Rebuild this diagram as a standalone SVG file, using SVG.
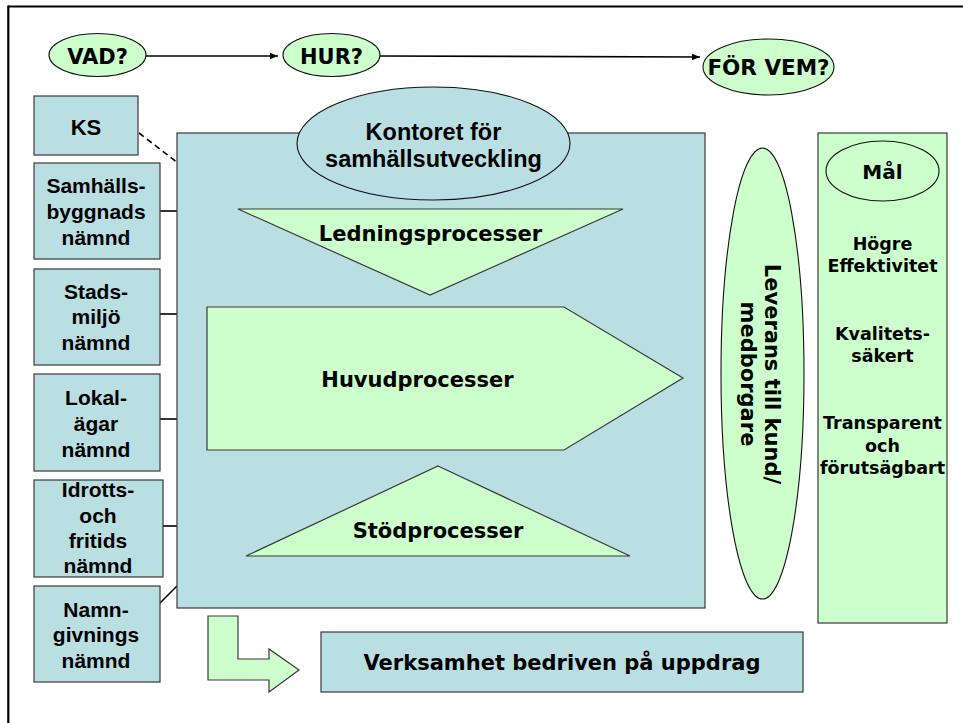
<svg xmlns="http://www.w3.org/2000/svg" width="963" height="723" viewBox="0 0 963 723">
<style>
.blue{fill:#BADFE3;stroke:#3a3a3a;stroke-width:1.2}
.green{fill:#CCFFCC;stroke:#3a3a3a;stroke-width:1.2}
.ell{stroke:#111;stroke-width:1.1}
.con{stroke:#000;stroke-width:1.6;fill:none}
.ta{font-family:"Liberation Sans",Arial,sans-serif;font-weight:bold;fill:#000;text-anchor:middle}
.tv{font-family:"DejaVu Sans",Verdana,sans-serif;font-weight:bold;fill:#000;text-anchor:middle}
</style>
<defs>
<marker id="ah" viewBox="0 0 10 10" refX="10" refY="5" markerWidth="8" markerHeight="8" markerUnits="userSpaceOnUse" orient="auto">
<path d="M0,1 L10,5 L0,9 z" fill="#000"/>
</marker>
</defs>
<rect width="963" height="723" fill="#fff"/>
<g id="frame">
<line x1="8" y1="6.5" x2="963" y2="6.5" stroke="#000" stroke-width="2.2"/>
<line x1="8.3" y1="5.5" x2="8.3" y2="723" stroke="#000" stroke-width="2.2"/>
</g>
<g id="connectors">
<line class="con" x1="146" y1="56" x2="278" y2="56" marker-end="url(#ah)"/>
<line class="con" x1="380" y1="56" x2="700" y2="57" marker-end="url(#ah)"/>
<line class="con" x1="139" y1="133" x2="178" y2="163" stroke-dasharray="6,4"/>
<line class="con" x1="160" y1="211" x2="177" y2="211"/>
<line class="con" x1="160" y1="314" x2="177" y2="314"/>
<line class="con" x1="160" y1="419" x2="177" y2="419"/>
<line class="con" x1="163" y1="526" x2="177" y2="526"/>
<line class="con" x1="160" y1="603" x2="177" y2="586"/>
</g>
<g id="vad">
<ellipse class="green ell" cx="97.5" cy="55" rx="48.5" ry="21.5"/>
<text class="tv" x="97.5" y="64" font-size="21">VAD?</text>
</g>
<g id="hur">
<ellipse class="green ell" cx="331.5" cy="55" rx="48.5" ry="21.5"/>
<text class="tv" x="331.5" y="64" font-size="21">HUR?</text>
</g>
<g id="forvem">
<ellipse class="green ell" cx="768.5" cy="67" rx="65.5" ry="28"/>
<text class="tv" x="768.5" y="74.5" font-size="21.5">FÖR VEM?</text>
</g>
<g id="kontoret-box">
<rect class="blue" x="177" y="133" width="528" height="475"/>
</g>
<g id="kontoret">
<ellipse class="blue ell" cx="433.5" cy="143.5" rx="136.5" ry="56.5"/>
<text class="ta" x="433.5" y="140" font-size="23.5">Kontoret för</text>
<text class="ta" x="433.5" y="167" font-size="23.5">samhällsutveckling</text>
</g>
<g id="ledning">
<polygon class="green" points="238,209 623,209 430,295"/>
<text class="tv" x="430.5" y="241" font-size="21">Ledningsprocesser</text>
</g>
<g id="huvud">
<polygon class="green" points="207,307 564,307 683,378 564,450 207,450"/>
<text class="tv" x="417.5" y="387" font-size="21">Huvudprocesser</text>
</g>
<g id="stod">
<polygon class="green" points="438,466 630,556 246,556"/>
<text class="tv" x="438" y="538" font-size="21">Stödprocesser</text>
</g>
<g id="ks">
<rect class="blue" x="34" y="96" width="104" height="59"/>
<text class="ta" x="86" y="135" font-size="22">KS</text>
</g>
<g id="samhallsbyggnad">
<rect class="blue" x="34" y="163" width="126" height="96"/>
<text class="ta" x="96" y="193" font-size="21">Samhälls-</text>
<text class="ta" x="96" y="219" font-size="21">byggnads</text>
<text class="ta" x="96" y="245" font-size="21">nämnd</text>
</g>
<g id="stadsmiljo">
<rect class="blue" x="34" y="269" width="126" height="96"/>
<text class="ta" x="96" y="299" font-size="21">Stads-</text>
<text class="ta" x="96" y="324" font-size="21">miljö</text>
<text class="ta" x="96" y="350" font-size="21">nämnd</text>
</g>
<g id="lokalagar">
<rect class="blue" x="34" y="374" width="126" height="97"/>
<text class="ta" x="96" y="405" font-size="21">Lokal-</text>
<text class="ta" x="96" y="431" font-size="21">ägar</text>
<text class="ta" x="96" y="457" font-size="21">nämnd</text>
</g>
<g id="idrott">
<rect class="blue" x="34" y="480" width="129" height="97"/>
<text class="ta" x="98" y="497" font-size="21">Idrotts-</text>
<text class="ta" x="98" y="523" font-size="21">och</text>
<text class="ta" x="98" y="548" font-size="21">fritids</text>
<text class="ta" x="98" y="573" font-size="21">nämnd</text>
</g>
<g id="namngivning">
<rect class="blue" x="34" y="586" width="126" height="96"/>
<text class="ta" x="96" y="617" font-size="21">Namn-</text>
<text class="ta" x="96" y="642" font-size="21">givnings</text>
<text class="ta" x="96" y="668" font-size="21">nämnd</text>
</g>
<g id="bent-arrow">
<polygon class="green" points="208,616 238,616 238,659 269,659 269,649 299,670 269,692 269,680 208,680"/>
</g>
<g id="verksamhet">
<rect class="blue" x="321" y="632" width="482" height="60"/>
<text class="tv" x="562" y="670" font-size="21">Verksamhet bedriven på uppdrag</text>
</g>
<g id="leverans">
<ellipse class="green ell" cx="762.5" cy="373.5" rx="41.5" ry="225.5"/>
<g transform="translate(762,374) rotate(90)">
<text class="tv" x="0" y="-3" font-size="21">Leverans till kund/</text>
<text class="tv" x="0" y="21" font-size="21">medborgare</text>
</g>
</g>
<g id="mal-panel">
<rect class="green" x="818" y="133" width="129" height="490"/>
<text class="tv" x="882.5" y="250" font-size="17.5">Högre</text>
<text class="tv" x="882.5" y="272" font-size="17.5">Effektivitet</text>
<text class="tv" x="882.5" y="340" font-size="17.5">Kvalitets-</text>
<text class="tv" x="882.5" y="362" font-size="17.5">säkert</text>
<text class="tv" x="882.5" y="429" font-size="17.5">Transparent</text>
<text class="tv" x="882.5" y="452" font-size="17.5">och</text>
<text class="tv" x="882.5" y="474" font-size="17.5">förutsägbart</text>
</g>
<g id="mal">
<ellipse class="green ell" cx="882.5" cy="171" rx="56.5" ry="30"/>
<text class="tv" x="882.5" y="179" font-size="20">Mål</text>
</g>
</svg>
